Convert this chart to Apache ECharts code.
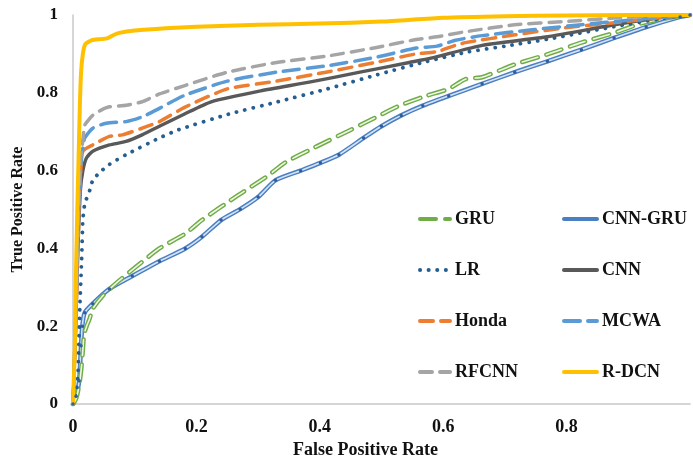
<!DOCTYPE html>
<html>
<head>
<meta charset="utf-8">
<script src="https://cdn.jsdelivr.net/npm/echarts@6/dist/echarts.min.js"></script>
<style>
  html, body { margin: 0; padding: 0; background: #fff; }
  #chart { width: 693px; height: 464px; }
</style>
</head>
<body>
<div id="chart"></div>
<script>
// ROC curves: [false positive rate, true positive rate]
const gruPoints = [[0,0],[0.004,0.01],[0.007,0.025],[0.011,0.058],[0.014,0.1],[0.016,0.14],[0.018,0.18],[0.022,0.2],[0.027,0.22],[0.032,0.245],[0.048,0.278],[0.07,0.311],[0.103,0.354],[0.14,0.4],[0.182,0.438],[0.209,0.473],[0.263,0.532],[0.316,0.587],[0.343,0.62],[0.396,0.663],[0.449,0.704],[0.487,0.734],[0.529,0.767],[0.572,0.792],[0.609,0.81],[0.636,0.835],[0.663,0.84],[0.716,0.873],[0.769,0.899],[0.824,0.929],[0.877,0.954],[0.92,0.978],[0.973,0.995],[1,1]];
const cnnGruPoints = [[0,0],[0.005,0.02],[0.01,0.06],[0.013,0.15],[0.015,0.2],[0.019,0.235],[0.032,0.258],[0.059,0.296],[0.096,0.329],[0.14,0.367],[0.182,0.4],[0.209,0.43],[0.24,0.473],[0.271,0.501],[0.3,0.532],[0.328,0.575],[0.369,0.6],[0.401,0.62],[0.431,0.641],[0.471,0.684],[0.5,0.714],[0.532,0.742],[0.567,0.767],[0.609,0.792],[0.663,0.823],[0.716,0.853],[0.769,0.881],[0.824,0.911],[0.877,0.941],[0.929,0.969],[0.984,0.995],[1,1]];
const lrPoints = [[0,0],[0.005,0.03],[0.008,0.076],[0.011,0.245],[0.014,0.372],[0.016,0.473],[0.019,0.514],[0.027,0.549],[0.032,0.575],[0.043,0.595],[0.059,0.616],[0.086,0.641],[0.14,0.684],[0.171,0.705],[0.252,0.745],[0.332,0.777],[0.412,0.81],[0.492,0.846],[0.572,0.88],[0.64,0.905],[0.7,0.92],[0.77,0.938],[0.877,0.97],[0.95,0.99],[1,1]];
const cnnPoints = [[0,0],[0.004,0.18],[0.008,0.4],[0.012,0.55],[0.016,0.6],[0.022,0.633],[0.032,0.65],[0.059,0.666],[0.086,0.675],[0.112,0.692],[0.14,0.714],[0.18,0.745],[0.224,0.777],[0.304,0.805],[0.385,0.828],[0.465,0.853],[0.545,0.878],[0.58,0.889],[0.663,0.922],[0.769,0.944],[0.877,0.975],[0.95,0.993],[1,1]];
const hondaPoints = [[0,0],[0.004,0.18],[0.008,0.42],[0.012,0.58],[0.016,0.65],[0.032,0.666],[0.059,0.688],[0.08,0.692],[0.112,0.709],[0.14,0.726],[0.18,0.762],[0.25,0.81],[0.33,0.83],[0.41,0.853],[0.49,0.878],[0.556,0.9],[0.59,0.906],[0.62,0.922],[0.636,0.929],[0.716,0.949],[0.796,0.967],[0.877,0.98],[0.95,0.993],[1,1]];
const mcwaPoints = [[0,0],[0.004,0.2],[0.008,0.45],[0.012,0.6],[0.016,0.66],[0.019,0.684],[0.032,0.709],[0.054,0.722],[0.086,0.726],[0.112,0.738],[0.14,0.76],[0.18,0.793],[0.25,0.83],[0.33,0.853],[0.41,0.869],[0.49,0.891],[0.556,0.915],[0.59,0.92],[0.62,0.935],[0.663,0.947],[0.744,0.962],[0.824,0.975],[0.904,0.987],[1,1]];
const rfcnnPoints = [[0,0],[0.004,0.2],[0.008,0.45],[0.012,0.62],[0.016,0.68],[0.019,0.717],[0.025,0.73],[0.032,0.742],[0.045,0.755],[0.059,0.764],[0.086,0.768],[0.112,0.777],[0.14,0.797],[0.18,0.818],[0.25,0.853],[0.33,0.878],[0.41,0.894],[0.49,0.916],[0.556,0.937],[0.59,0.944],[0.636,0.957],[0.716,0.975],[0.796,0.983],[0.877,0.992],[0.95,0.997],[1,1]];
const rdcnPoints = [[0,0],[0.003,0.15],[0.005,0.35],[0.007,0.5],[0.009,0.63],[0.011,0.76],[0.013,0.85],[0.016,0.9],[0.02,0.925],[0.03,0.935],[0.045,0.938],[0.055,0.94],[0.065,0.948],[0.075,0.954],[0.1,0.96],[0.15,0.966],[0.2,0.97],[0.3,0.975],[0.4,0.978],[0.5,0.983],[0.6,0.993],[0.7,0.997],[0.8,0.999],[0.9,1],[1,1]];

const xTickLabels = ['0', '0.2', '0.4', '0.6', '0.8'];
const yTickLabels = ['0', '0.2', '0.4', '0.6', '0.8', '1'];
const legendLeft = ['GRU', 'LR', 'Honda', 'RFCNN'];
const legendRight = ['CNN-GRU', 'CNN', 'MCWA', 'R-DCN'];

const serif = '"Liberation Serif", "DejaVu Serif", serif';

function curve(name, data, color, width, type, extra) {
  return Object.assign({
    name: name,
    type: 'line',
    data: data,
    showSymbol: false,
    symbol: 'none',
    smooth: 0.2,
    silent: true,
    lineStyle: { color: color, width: width, type: type, cap: 'round', join: 'round' },
    itemStyle: { color: color }
  }, extra || {});
}

function tickText(list) {
  return function (v) {
    const s = String(Math.round(v * 10) / 10);
    return list.indexOf(s) >= 0 ? s : '';
  };
}

const legendText = { fontFamily: serif, fontWeight: 'bold', fontSize: 18, color: '#111' };
const legendBase = {
  orient: 'vertical', top: 205, itemHeight: 14, itemGap: 33,
  textStyle: legendText, selectedMode: false,
  itemStyle: { opacity: 0 },
  lineStyle: { width: 4 }
};

const chart = echarts.init(document.getElementById('chart'), null, { renderer: 'canvas' });
chart.setOption({
  animation: false,
  backgroundColor: '#fff',
  grid: { left: 73, top: 15, right: -4, bottom: 54, containLabel: false },
  xAxis: {
    type: 'value', min: 0, max: 1, interval: 0.2,
    name: 'False Positive Rate', nameLocation: 'middle', nameGap: 33,
    nameTextStyle: { fontFamily: serif, fontWeight: 'bold', fontSize: 18, color: '#111', padding: [0, 32, 0, 0] },
    axisLine: { show: true, lineStyle: { color: '#c8c8c8', width: 1.5 } },
    axisTick: { show: false },
    splitLine: { show: false },
    axisLabel: { formatter: tickText(xTickLabels), fontFamily: serif, fontWeight: 'bold', fontSize: 18, color: '#111', margin: 14 }
  },
  yAxis: {
    type: 'value', min: 0, max: 1, interval: 0.2,
    name: 'True Positive Rate', nameLocation: 'middle', nameGap: 46, nameRotate: 90,
    nameTextStyle: { fontFamily: serif, fontWeight: 'bold', fontSize: 16, color: '#111' },
    axisLine: { show: true, lineStyle: { color: '#c8c8c8', width: 1.5 } },
    axisTick: { show: false },
    splitLine: { show: false },
    axisLabel: { formatter: tickText(yTickLabels), fontFamily: serif, fontWeight: 'bold', fontSize: 17, color: '#111', margin: 15 }
  },
  legend: [
    Object.assign({ data: legendLeft, left: 413, itemWidth: 30 }, legendBase),
    Object.assign({ data: legendRight, left: 557, itemWidth: 33 }, legendBase)
  ],
  series: [
    curve('CNN-GRU', cnnGruPoints, '#4a7fc1', 4.5, 'solid'),
    curve('CNN-GRU core', cnnGruPoints, '#d3e3f5', 1.6, 'solid', {
      showSymbol: true, symbol: 'circle', symbolSize: 3.5,
      itemStyle: { color: '#2f5fa0', borderWidth: 0 }
    }),
    curve('GRU', gruPoints, '#70ad47', 4.5, [16, 9]),
    curve('GRU core', gruPoints, '#eef6e8', 1.6, [16, 9]),
    curve('LR', lrPoints, '#255e91', 3.8, [0.1, 8.5]),
    curve('CNN', cnnPoints, '#595959', 3.4, 'solid'),
    curve('Honda', hondaPoints, '#ed7d31', 3.5, [13, 8]),
    curve('MCWA', mcwaPoints, '#5b9bd5', 3.5, [16, 8]),
    curve('RFCNN', rfcnnPoints, '#a5a5a5', 3.5, [12, 8]),
    curve('R-DCN', rdcnPoints, '#ffc000', 4, 'solid')
  ]
});
</script>
</body>
</html>
